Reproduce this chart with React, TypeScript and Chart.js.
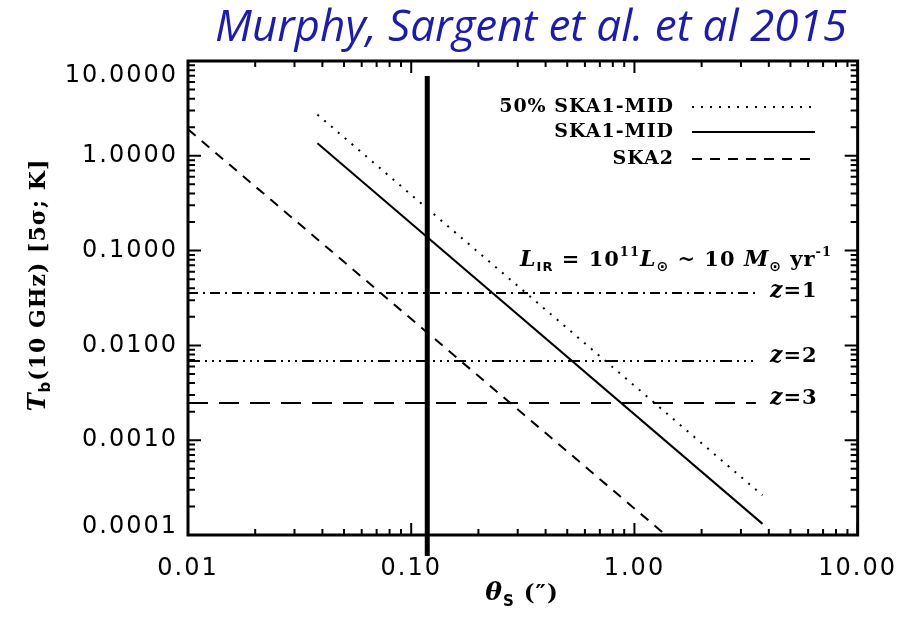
import { useEffect, useRef } from 'react';
import { Chart, registerables } from 'chart.js';

Chart.register(...registerables);

// ---------------- data ----------------
const titleText = 'Murphy, Sargent et al. et al 2015';
const seriesNames = ['50% SKA1-MID', 'SKA1-MID', 'SKA2'];
const ska1HalfTheta = [0.038, 3.75];
const ska1HalfTb = [2.72, 0.000262];
const ska1Theta = [0.038, 3.75];
const ska1Tb = [1.36, 0.000131];
const ska2Theta = [0.01, 1.38];
const ska2Tb = [1.9, 0.0001];
const redshiftLabels = ['z=1', 'z=2', 'z=3'];
const redshiftTb = [0.0357, 0.00684, 0.00247];
const redshiftTheta = [0.01, 3.5];
const beamTheta = [0.118, 0.118];
const beamTb = [6.95, 0.00006];
const xTickValues = [0.01, 0.1, 1, 10];
const yTickValues = [0.0001, 0.001, 0.01, 0.1, 1, 10];

const SERIF = '"DejaVu Serif"';
const SANS = '"DejaVu Sans"';

type Run = { text: string; font: string; dy?: number };

function runsWidth(ctx: CanvasRenderingContext2D, runs: Run[]) {
  let w = 0;
  for (const r of runs) {
    ctx.font = r.font;
    w += ctx.measureText(r.text).width;
  }
  return w;
}

function drawRuns(ctx: CanvasRenderingContext2D, runs: Run[], x: number, y: number) {
  let cx = x;
  for (const r of runs) {
    ctx.font = r.font;
    ctx.fillText(r.text, cx, y + (r.dy || 0));
    cx += ctx.measureText(r.text).width;
  }
}

const isDecade = (v: number) => Math.abs(Math.log10(v) - Math.round(Math.log10(v))) < 1e-6;

function logTicks(lo: number, hi: number) {
  const out: { v: number; major: boolean }[] = [];
  const e0 = Math.round(Math.log10(lo));
  const e1 = Math.round(Math.log10(hi));
  for (let e = e0; e < e1; e++) {
    for (let k = 1; k < 10; k++) out.push({ v: k * Math.pow(10, e), major: k === 1 });
  }
  out.push({ v: hi, major: true });
  return out;
}

const frameTicksPlugin = {
  id: 'frameTicks',
  beforeDraw(chart: any) {
    (chart.ctx as any).letterSpacing = '2px';
  },
  afterDatasetsDraw(chart: any) {
    const { ctx, chartArea: a, scales } = chart;
    const xs = scales.x;
    const ys = scales.y;
    ctx.save();
    ctx.strokeStyle = '#000';
    ctx.setLineDash([]);
    ctx.lineWidth = 2;
    ctx.beginPath();
    for (const t of logTicks(xTickValues[0], xTickValues[xTickValues.length - 1])) {
      const px = xs.getPixelForValue(t.v);
      const len = t.major ? 12 : 6;
      ctx.moveTo(px, a.bottom);
      ctx.lineTo(px, a.bottom - len);
      ctx.moveTo(px, a.top);
      ctx.lineTo(px, a.top + len);
    }
    for (const t of logTicks(yTickValues[0], yTickValues[yTickValues.length - 1])) {
      const py = ys.getPixelForValue(t.v);
      const len = t.major ? 13 : 7;
      ctx.moveTo(a.left, py);
      ctx.lineTo(a.left + len, py);
      ctx.moveTo(a.right, py);
      ctx.lineTo(a.right - len, py);
    }
    ctx.stroke();
    ctx.lineWidth = 3;
    ctx.strokeRect(a.left, a.top, a.right - a.left, a.bottom - a.top);
    ctx.restore();
  },
  afterDraw(chart: any) {
    const ctx: CanvasRenderingContext2D = chart.ctx;
    ctx.save();
    (ctx as any).letterSpacing = '0px';
    // title
    ctx.fillStyle = '#1c1ca8';
    ctx.textAlign = 'center';
    ctx.textBaseline = 'alphabetic';
    ctx.font = `italic 44px "Open Sans"`;
    ctx.fillText(titleText, 531, 41);

    ctx.fillStyle = '#000';
    ctx.textAlign = 'left';
    (ctx as any).letterSpacing = '1px';

    // y axis title
    const yRuns: Run[] = [
      { text: 'T', font: `italic bold 24px ${SERIF}` },
      { text: 'b', font: `bold 15px ${SANS}`, dy: 5 },
      { text: '(10 GHz) [5σ; K]', font: `bold 22px ${SERIF}` },
    ];
    ctx.save();
    ctx.translate(36, 285);
    ctx.rotate(-Math.PI / 2);
    const yw = runsWidth(ctx, yRuns);
    drawRuns(ctx, yRuns, -yw / 2, 9);
    ctx.restore();

    // x axis title
    const xRuns: Run[] = [
      { text: 'θ', font: `italic bold 25px ${SERIF}` },
      { text: 'S', font: `bold 15px ${SANS}`, dy: 6 },
      { text: ' (″)', font: `bold 23px ${SERIF}` },
    ];
    const xw = runsWidth(ctx, xRuns);
    drawRuns(ctx, xRuns, 522 - xw / 2, 600);

    // legend
    const rows = [107, 132, 159];
    const ds = chart.data.datasets;
    for (let i = 0; i < 3; i++) {
      ctx.font = `bold 19px ${SERIF}`;
      (ctx as any).letterSpacing = '1px';
      ctx.textAlign = 'right';
      ctx.textBaseline = 'middle';
      ctx.fillText(seriesNames[i], 674, rows[i]);
      ctx.beginPath();
      ctx.lineWidth = ds[i].borderWidth;
      ctx.setLineDash(ds[i].borderDash || []);
      ctx.moveTo(692, rows[i]);
      ctx.lineTo(815, rows[i]);
      ctx.stroke();
    }
    ctx.setLineDash([]);

    // annotation
    (ctx as any).letterSpacing = '1px';
    ctx.textAlign = 'left';
    ctx.textBaseline = 'alphabetic';
    const aRuns: Run[] = [
      { text: 'L', font: `italic bold 22px ${SERIF}` },
      { text: 'IR', font: `bold 13px ${SANS}`, dy: 5 },
      { text: ' = 10', font: `bold 21px ${SERIF}` },
      { text: '11', font: `bold 13px ${SERIF}`, dy: -10 },
      { text: 'L', font: `italic bold 22px ${SERIF}` },
      { text: '⊙', font: `bold 14px ${SANS}`, dy: 5 },
      { text: ' ~ 10 ', font: `bold 21px ${SERIF}` },
      { text: 'M', font: `italic bold 22px ${SERIF}` },
      { text: '⊙', font: `bold 14px ${SANS}`, dy: 5 },
      { text: ' yr', font: `bold 21px ${SERIF}` },
      { text: '-1', font: `bold 13px ${SERIF}`, dy: -10 },
    ];
    const aw = runsWidth(ctx, aRuns);
    drawRuns(ctx, aRuns, 832 - aw, 266);

    // redshift labels
    const zy = [297, 362, 404];
    for (let i = 0; i < 3; i++) {
      const parts = redshiftLabels[i].split('=');
      drawRuns(
        ctx,
        [
          { text: parts[0], font: `italic bold 22px ${SERIF}` },
          { text: '=' + parts[1], font: `bold 21px ${SERIF}` },
        ],
        770,
        zy[i]
      );
    }
    ctx.restore();
  },
};

function line(label: string, xs: number[], ys: number[], extra: Record<string, unknown>) {
  return {
    label,
    data: xs.map((x, i) => ({ x, y: ys[i] })),
    showLine: true,
    pointRadius: 0,
    borderColor: '#000',
    backgroundColor: '#000',
    borderWidth: 2,
    fill: false,
    ...extra,
  };
}

export default function App() {
  const ref = useRef<HTMLCanvasElement>(null);
  useEffect(() => {
    const chart = new Chart(ref.current as HTMLCanvasElement, {
      type: 'scatter',
      data: {
        datasets: [
          line(seriesNames[0], ska1HalfTheta, ska1HalfTb, { borderDash: [2, 7] }),
          line(seriesNames[1], ska1Theta, ska1Tb, {}),
          line(seriesNames[2], ska2Theta, ska2Tb, { borderDash: [10, 8] }),
          line(redshiftLabels[0], redshiftTheta, [redshiftTb[0], redshiftTb[0]], { borderDash: [10, 5, 2, 5] }),
          line(redshiftLabels[1], redshiftTheta, [redshiftTb[1], redshiftTb[1]], {
            borderDash: [12, 5, 2, 5, 2, 5, 2, 5],
          }),
          line(redshiftLabels[2], redshiftTheta, [redshiftTb[2], redshiftTb[2]], { borderDash: [20, 11] }),
          line('beam', beamTheta, beamTb, { borderWidth: 5, clip: false }),
        ] as any,
      },
      options: {
        responsive: false,
        animation: false,
        layout: { padding: { left: 0, top: 61, right: 53, bottom: 0 } },
        plugins: { legend: { display: false }, tooltip: { enabled: false }, title: { display: false } },
        scales: {
          x: {
            type: 'logarithmic',
            min: xTickValues[0],
            max: xTickValues[xTickValues.length - 1],
            grid: { display: false, drawTicks: false, tickLength: 0 },
            border: { display: false },
            afterBuildTicks: (s: any) => {
              s.ticks = xTickValues.map((v) => ({ value: v }));
            },
            afterFit: (s: any) => {
              s.height = 83;
            },
            ticks: {
              autoSkip: false,
              maxRotation: 0,
              padding: 19,
              color: '#000',
              font: { family: 'DejaVu Sans', size: 24, lineHeight: 1.2 },
              callback: (v: any) => (isDecade(Number(v)) ? Number(v).toFixed(2) : ''),
            },
          },
          y: {
            type: 'logarithmic',
            min: yTickValues[0],
            max: yTickValues[yTickValues.length - 1],
            grid: { display: false, drawTicks: false, tickLength: 0 },
            border: { display: false },
            afterBuildTicks: (s: any) => {
              s.ticks = yTickValues.map((v) => ({ value: v }));
            },
            afterFit: (s: any) => {
              s.width = 188;
            },
            ticks: {
              autoSkip: false,
              padding: 10,
              color: '#000',
              font: (c: any) => ({
                family: 'DejaVu Sans',
                size: 24,
                lineHeight: c.tick && c.tick.value === yTickValues[0] ? '16px' : 1.2,
              }),
              callback: (v: any) => {
                const n = Number(v);
                if (!isDecade(n)) return '';
                const s = n.toFixed(4);
                if (n === yTickValues[yTickValues.length - 1]) return ['', s];
                if (n === yTickValues[0]) return [s, ''];
                return s;
              },
            },
          },
        },
      },
      plugins: [frameTicksPlugin],
    } as any);
    return () => chart.destroy();
  }, []);

  return (
    <div style={{ position: 'fixed', left: 0, top: 0, width: 911, height: 618, background: '#fff' }}>
      <canvas ref={ref} width={911} height={618} style={{ display: 'block' }} />
    </div>
  );
}
